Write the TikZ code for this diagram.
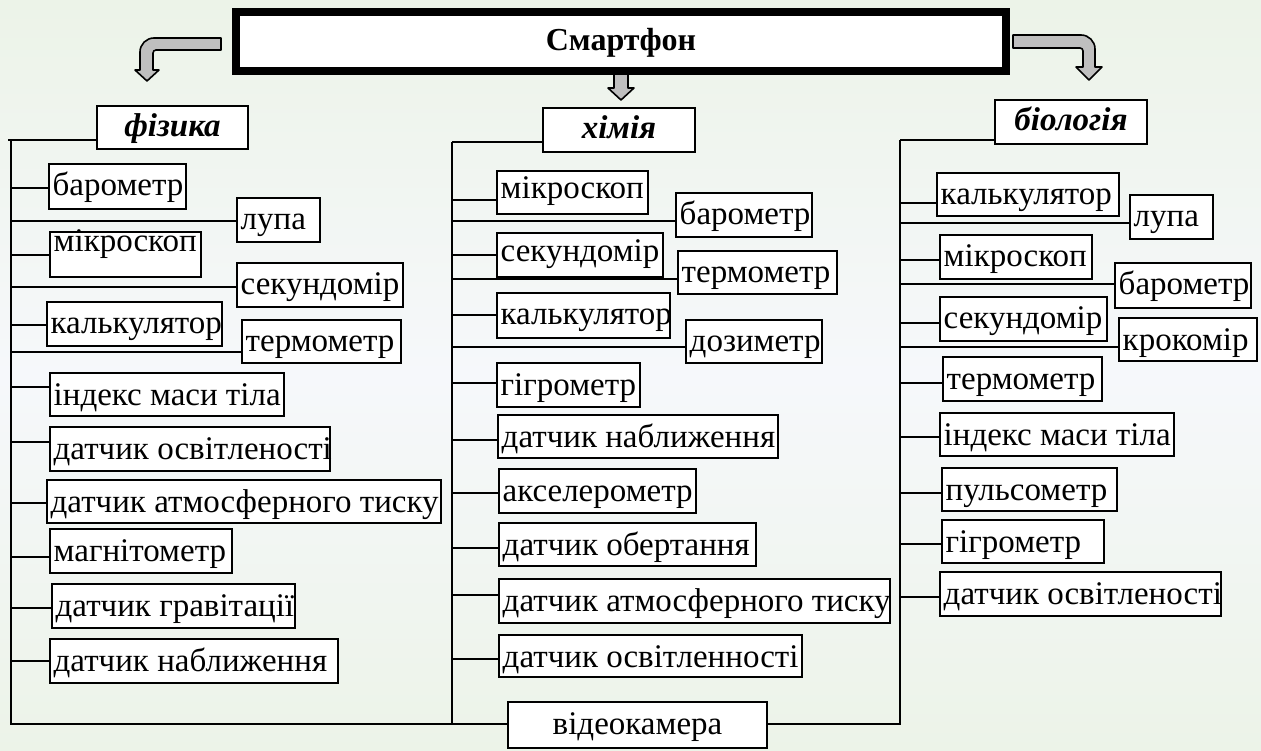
\documentclass[tikz,border=0pt]{standalone}
\usepackage{fontspec}
\setmainfont{Liberation Serif}
\definecolor{bgG}{RGB}{236,243,232}
\definecolor{bgW}{RGB}{246,248,251}
\definecolor{arrG}{RGB}{191,191,191}
\tikzset{
  ibox/.style={draw=black, fill=white, line width=1.4pt, inner sep=0pt, outer sep=0pt},
  txt/.style={font=\fontsize{33}{37}\selectfont, inner sep=0pt, anchor=base west},
  cat/.style={ibox, font=\fontsize{33}{37}\selectfont\bfseries\itshape, text height=24pt, text depth=6pt},
  conn/.style={draw=black, line width=1.6pt},
  barrow/.style={fill=arrG, draw=black, line width=1.6pt, line join=round},
}
% optional: baseline offset from top; name; x1; y1; x2; y2; spine; line y; text
\newcommand\itm[9][32]{%
  \node[ibox, minimum width={(#5-#3)*1pt}, minimum height={(#6-#4)*1pt}] (#2) at ({(#3+#5)/2},{(#4+#6)/2}) {};
  \node[txt] (#2-t) at ([xshift=3.5pt,yshift=-#1pt]#2.north west) {#9};
  \coordinate (#2-y) at (0,#8);
  \draw[conn] (#7 |- #2-y) -- (#2-y -| #2.west);
}
\begin{document}
\begin{tikzpicture}[x=1pt,y=-1pt]
\useasboundingbox (0,0) rectangle (1261,751);
\shade[top color=bgG, bottom color=bgG, middle color=bgW] (0,0) rectangle (1261,751);

% spines
\coordinate (sL0) at (8,140);
\coordinate (sL) at (11,140);
\coordinate (sLb) at (11,724);
\coordinate (sM) at (452,142);
\coordinate (sMb) at (452,724);
\coordinate (sR) at (900,140);
\coordinate (sRb) at (900,724);

% arrows
\draw[barrow] (221,38) [rounded corners=14pt] -- (140,38) [sharp corners] -- (140,70) -- (135,70) -- (147,81) -- (159,70) -- (153,70) [rounded corners=3pt] -- (153,50) [sharp corners] -- (221,50) -- cycle;
\draw[barrow] (614,72) -- (614,88) -- (608,88) -- (621,100) -- (634,88) -- (628,88) -- (628,72) -- cycle;
\draw[barrow] (1013,35) [rounded corners=14pt] -- (1095,35) [sharp corners] -- (1095,67) -- (1102,67) -- (1089,80) -- (1076,67) -- (1083,67) [rounded corners=3pt] -- (1083,48) [sharp corners] -- (1013,48) -- cycle;

% top box
\node[draw=black, fill=white, line width=8pt, inner sep=0pt, minimum width=770pt, minimum height=59pt,
      font=\fontsize{32}{36}\selectfont\bfseries, text height=24pt, text depth=6pt] (sm) at (621,41.5) {Смартфон};

% categories
\node[cat, minimum width=151pt, minimum height=43pt] (fiz) at (172.5,127.5) {фізика};
\node[cat, minimum width=152pt, minimum height=44pt] (him) at (619,130) {хімія};
\node[cat, minimum width=152pt, minimum height=44pt] (bio) at (1071,122) {біологія};

% video box
\node[ibox, minimum width=259pt, minimum height=46pt] (vid) at (637.5,725) {};
\node[txt, anchor=base] (vid-t) at ([yshift=-32pt]vid.north) {відеокамера};

% spine lines
\draw[conn] (sL0) -- (sL0 -| fiz.west);
\draw[conn] (sM) -- (sM -| him.west);
\draw[conn] (sR) -- (sR -| bio.west);
\draw[conn] (sL) -- (sLb) -- (sLb -| vid.west);
\draw[conn] (sM) -- (sMb);
\draw[conn] (vid.east |- sRb) -- (sRb) -- (sR);

% physics
\itm{l1}{49}{164}{186}{209}{sL}{188}{барометр}
\itm{l2}{237}{198}{320}{242}{sL}{221}{лупа}
\itm[20]{l3}{50}{232}{201}{277}{sL}{255}{мікроскоп}
\itm{l4}{237}{263}{403}{307}{sL}{287}{секундомір}
\itm{l5}{47}{302}{222}{346}{sL}{325}{калькулятор}
\itm{l6}{242}{320}{401}{363}{sL}{352}{термометр}
\itm{l7}{50}{373}{284}{416}{sL}{387}{індекс маси тіла}
\itm{l8}{50}{427}{330}{471}{sL}{442}{датчик освітленості}
\itm{l9}{47}{480}{441}{523}{sL}{503}{датчик атмосферного тиску}
\itm{l10}{50}{529}{232}{573}{sL}{557}{магнітометр}
\itm{l11}{52}{584}{295}{628}{sL}{608}{датчик гравітації}
\itm{l12}{50}{639}{338}{683}{sL}{661}{датчик наближення}

% chemistry
\itm[28]{m1}{497}{171}{648}{214}{sM}{200}{мікроскоп}
\itm{m2}{676}{193}{812}{237}{sM}{221}{барометр}
\itm[29]{m3}{497}{233}{663}{277}{sM}{255}{секундомір}
\itm{m4}{678}{251}{837}{294}{sM}{279}{термометр}
\itm{m5}{497}{293}{670}{338}{sM}{315}{калькулятор}
\itm{m6}{686}{320}{822}{363}{sM}{347}{дозиметр}
\itm{m7}{497}{363}{640}{407}{sM}{383}{гігрометр}
\itm{m8}{498}{415}{778}{458}{sM}{440}{датчик наближення}
\itm{m9}{499}{469}{696}{513}{sM}{493}{акселерометр}
\itm{m10}{499}{523}{756}{566}{sM}{548}{датчик обертання}
\itm{m11}{499}{579}{890}{623}{sM}{595}{датчик атмосферного тиску}
\itm{m12}{499}{635}{802}{677}{sM}{659}{датчик освітленності}

% biology
\itm{r1}{937}{173}{1119}{216}{sR}{203}{калькулятор}
\itm{r2}{1130}{195}{1213}{239}{sR}{223}{лупа}
\itm{r3}{940}{235}{1092}{279}{sR}{260}{мікроскоп}
\itm{r4}{1115}{263}{1251}{308}{sR}{284}{барометр}
\itm{r5}{940}{297}{1107}{341}{sR}{323}{секундомір}
\itm{r6}{1119}{318}{1257}{361}{sR}{347}{крокомір}
\itm{r7}{943}{357}{1102}{401}{sR}{383}{термометр}
\itm{r8}{940}{413}{1174}{456}{sR}{437}{індекс маси тіла}
\itm{r9}{942}{468}{1117}{511}{sR}{493}{пульсометр}
\itm{r10}{942}{520}{1104}{563}{sR}{544}{гігрометр}
\itm{r11}{940}{572}{1221}{616}{sR}{597}{датчик освітленості}
\end{tikzpicture}
\end{document}
